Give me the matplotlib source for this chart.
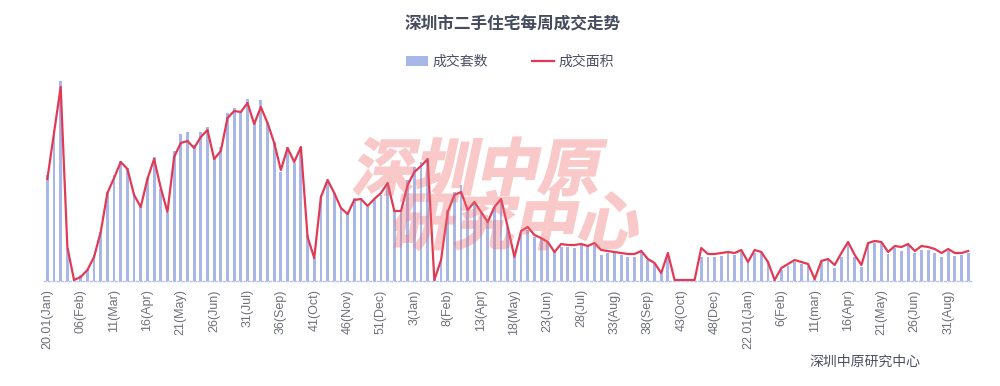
import numpy as np
import matplotlib
matplotlib.use("Agg")
import matplotlib.pyplot as plt
from matplotlib.patches import Patch, PathPatch
from matplotlib.lines import Line2D
from matplotlib.textpath import TextPath
from matplotlib.font_manager import FontProperties
from matplotlib.transforms import Affine2D
from matplotlib.colors import to_rgb

# weekly second-hand housing deals, Shenzhen (2020 wk1 .. 2022 wk34)
units = [1060, 1510, 2000, 330, 30, 60, 110, 260, 490, 890, 1060, 1200, 1130, 880, 760, 1030,
         1240, 920, 680, 1300, 1470, 1490, 1360, 1490, 1540, 1240, 1340, 1680, 1730, 1690,
         1820, 1610, 1810, 1590, 1390, 1090, 1340, 1180, 1340, 460, 230, 860, 1000, 880, 730,
         680, 830, 830, 740, 810, 860, 960, 710, 690, 1010, 1140, 1190, 1210, 20, 210, 710,
         890, 960, 730, 780, 690, 590, 740, 810, 540, 240, 490, 510, 440, 430, 390, 310, 340,
         340, 330, 360, 340, 360, 260, 280, 280, 260, 240, 240, 290, 210, 170, 80, 240, 0, 0,
         0, 0, 240, 240, 240, 250, 280, 260, 290, 180, 280, 280, 190, 10, 110, 150, 190, 170,
         150, 30, 190, 210, 130, 240, 380, 240, 140, 370, 380, 380, 270, 330, 300, 360, 280,
         310, 310, 280, 240, 300, 250, 260, 280]

# deal area, 10k m2
area = [10.2, 14.8, 19.4, 3.4, 0.1, 0.4, 1.1, 2.4, 4.9, 8.8, 10.3, 11.9, 11.2, 8.6, 7.4, 10.2,
        12.2, 9.3, 6.9, 12.4, 13.8, 14.0, 13.3, 14.4, 15.1, 12.2, 13.0, 16.3, 17.0, 16.9,
        17.8, 15.7, 17.4, 15.8, 13.8, 11.1, 13.3, 11.9, 13.4, 4.4, 2.3, 8.4, 10.1, 8.8, 7.3,
        6.7, 8.1, 8.2, 7.5, 8.2, 8.8, 9.8, 7.0, 7.0, 9.6, 10.9, 11.5, 12.2, 0.1, 2.1, 6.9,
        8.6, 8.9, 7.1, 7.9, 6.9, 5.9, 7.4, 8.2, 5.4, 2.4, 5.0, 5.4, 4.6, 4.3, 3.9, 2.9, 3.7,
        3.6, 3.6, 3.7, 3.5, 3.8, 3.1, 3.0, 2.9, 2.8, 2.7, 2.7, 3.0, 2.2, 1.8, 0.8, 2.8, 0.1,
        0.1, 0.1, 0.1, 3.3, 2.7, 2.7, 2.8, 2.9, 2.8, 3.1, 1.9, 3.1, 2.9, 1.9, 0.1, 1.3, 1.7,
        2.1, 1.9, 1.7, 0.2, 2.0, 2.2, 1.6, 2.8, 3.9, 2.6, 1.6, 3.8, 4.0, 3.9, 2.9, 3.5, 3.4,
        3.7, 3.0, 3.5, 3.4, 3.2, 2.8, 3.2, 2.8, 2.8, 3.0]

tick_labels = ["20.01(Jan)", "06(Feb)", "11(Mar)", "16(Apr)", "21(May)", "26(Jun)", "31(Jul)",
               "36(Sep)", "41(Oct)", "46(Nov)", "51(Dec)", "3(Jan)", "8(Feb)", "13(Apr)",
               "18(May)", "23(Jun)", "28(Jul)", "33(Aug)", "38(Sep)", "43(Oct)", "48(Dec)",
               "22.01(Jan)", "6(Feb)", "11(mar)", "16(Apr)", "21(May)", "26(Jun)", "31(Aug)"]

cjk = ["Noto Sans CJK SC", "DejaVu Sans"]
bar_color = "#a9b6e8"
line_color = "#e23a55"
text_color = "#4a4f63"
W, H = 1000, 386

fig = plt.figure(figsize=(W / 100, H / 100), dpi=100)
ax = fig.add_axes([0.044, 1 - 281 / H, 0.9275, 206 / H])
ax2 = ax.twinx()

x = np.arange(len(units))
ax.bar(x, units, width=0.42, color=bar_color, zorder=2)
ax2.plot(x, area, color=line_color, linewidth=1.6, zorder=3)

ax.set_xlim(-0.5, len(units) - 0.5)
ax.set_ylim(0, 2060)
ax2.set_ylim(0, 20.6)

ax.set_xticks(x[::5])
ax.set_xticklabels(tick_labels, rotation=90, fontsize=9, color="#6e7079",
                   family="Liberation Sans", va="top")
ax.tick_params(axis="x", length=0, pad=6)
ax.set_yticks([])
ax2.set_yticks([])
for a in (ax, ax2):
    for s in ("top", "left", "right"):
        a.spines[s].set_visible(False)
ax2.spines["bottom"].set_visible(False)
ax.spines["bottom"].set_color("#b8c2ee")
ax.spines["bottom"].set_linestyle((0, (1.5, 1.5)))
ax.spines["bottom"].set_linewidth(1)

# title and legend
fig.text(0.513, 1 - 24 / H, "深圳市二手住宅每周成交走势", ha="center", va="center",
         fontsize=12, fontweight="bold", color="#464c5e", family=cjk)
handles = [Patch(facecolor=bar_color, edgecolor="none"),
           Line2D([0], [0], color=line_color, linewidth=1.6)]
fig.legend(handles, ["成交套数", "成交面积"], loc="center", bbox_to_anchor=(0.51, 1 - 62 / H),
           ncol=2, frameon=False, handlelength=1.6, handletextpad=0.3, columnspacing=3.2,
           prop=FontProperties(family=cjk, size=10), labelcolor=text_color)

# watermark: render heavy slanted text as a mask, then overlay it semi-transparent
wm_prop = FontProperties(family="Noto Sans CJK SC", weight="bold")
mfig = plt.figure(figsize=(W / 100, H / 100), dpi=100)
px = Affine2D().scale(1 / 100) + mfig.dpi_scale_trans
for txt, x0, y0 in [("深圳中原", 351, 190), ("研究中心", 389, 244)]:
    tp = TextPath((0, 0), txt, size=62, prop=wm_prop)
    tr = Affine2D().skew_deg(12, 0).translate(x0, H - y0)
    mfig.add_artist(PathPatch(tr.transform_path(tp), facecolor="black", edgecolor="black",
                              linewidth=1.3, joinstyle="miter", transform=px))
mfig.canvas.draw()
mask = 1 - np.asarray(mfig.canvas.buffer_rgba())[..., 0] / 255.0
plt.close(mfig)
wm = np.zeros((mask.shape[0], mask.shape[1], 4))
wm[..., :3] = to_rgb("#f06a6a")
wm[..., 3] = mask * 0.36
fig.figimage(wm, 0, 0, origin="upper", zorder=10)

fig.text(0.865, 1 - 362 / H, "深圳中原研究中心", ha="center", va="center",
         fontsize=10, color=text_color, family=cjk)

fig.savefig("out.png", dpi=100)
